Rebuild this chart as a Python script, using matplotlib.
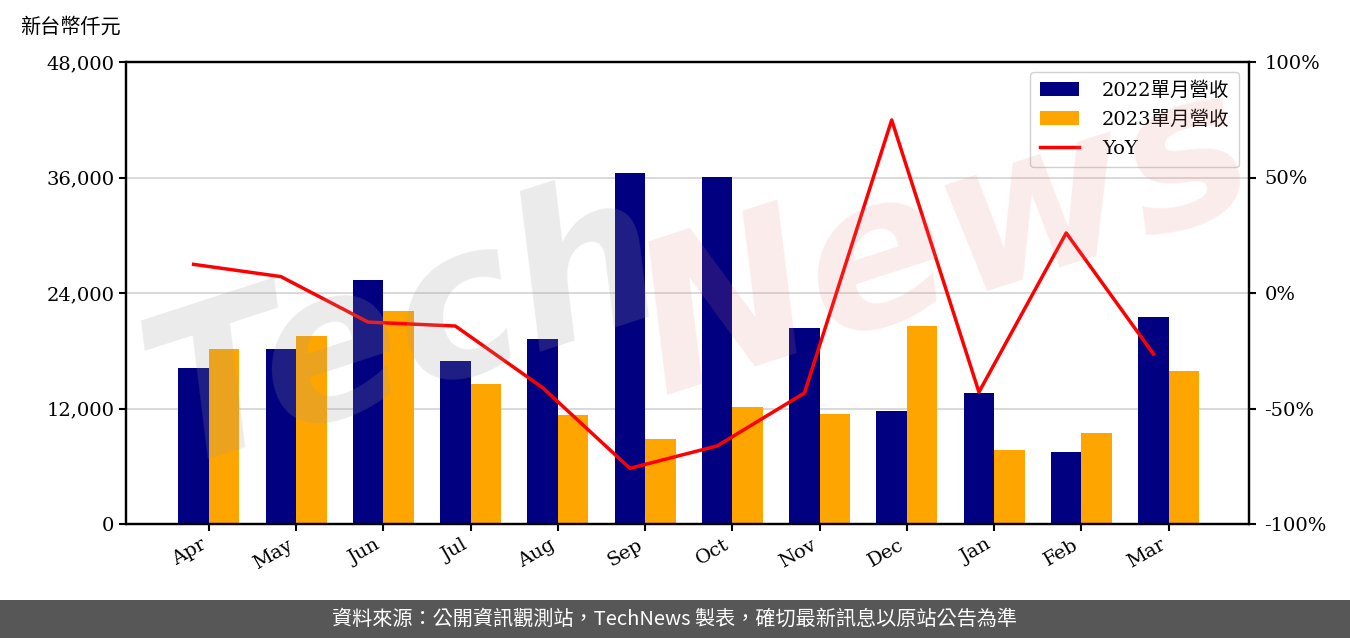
import matplotlib
matplotlib.use("Agg")
import matplotlib.pyplot as plt
import numpy as np
from matplotlib.ticker import FuncFormatter, FixedLocator
from matplotlib.patches import Rectangle

plt.rcParams['font.family'] = ['DejaVu Serif', 'Noto Sans CJK TC']

months = ['Apr', 'May', 'Jun', 'Jul', 'Aug', 'Sep', 'Oct', 'Nov', 'Dec', 'Jan', 'Feb', 'Mar']
rev_2022 = [16200, 18180, 25350, 16930, 19220, 36470, 36050, 20360, 11740, 13610, 7480, 21510]
rev_2023 = [18180, 19530, 22130, 14540, 11320, 8830, 12160, 11430, 20570, 7690, 9450, 15900]
yoy = [12.4, 7.1, -12.6, -14.3, -41.0, -75.9, -66.2, -43.3, 74.9, -42.9, 26.0, -26.4]

label_2022 = '2022單月營收'
label_2023 = '2023單月營收'
label_yoy = 'YoY'
unit_label = '新台幣仟元'
footer = '資料來源：公開資訊觀測站，TechNews 製表，確切最新訊息以原站公告為準'

fig = plt.figure(figsize=(13.5, 6.38), dpi=100)
ax = fig.add_axes([126/1350, 1-524/638, (1249-126)/1350, (524-62)/638])

x = np.arange(len(months))
w = 0.35
b1 = ax.bar(x - w/2, rev_2022, w, color='#000080', label=label_2022, zorder=2)
b2 = ax.bar(x + w/2, rev_2023, w, color='#FFA500', label=label_2023, zorder=2)
ax.set_ylim(0, 48000)
ax.set_xlim(-0.95, 11.92)
ax.yaxis.set_major_locator(FixedLocator([0, 12000, 24000, 36000, 48000]))
ax.yaxis.set_major_formatter(FuncFormatter(lambda v, p: f'{int(v):,}'))
ax.set_xticks(x)
ax.set_xticklabels(months, rotation=30, ha='right', rotation_mode='default')
ax.grid(axis='y', color='#d3d3d3', linewidth=1.2, zorder=0)
ax.set_axisbelow(True)
ax.tick_params(axis='both', labelsize=14, width=1.5, length=5)
for s in ax.spines.values():
    s.set_linewidth(1.6)

ax2 = ax.twinx()
l1, = ax2.plot(x - w/2, yoy, color='#FF0000', linewidth=2.5, label=label_yoy, zorder=3)
ax2.set_ylim(-100, 100)
ax2.yaxis.set_major_locator(FixedLocator([-100, -50, 0, 50, 100]))
ax2.yaxis.set_major_formatter(FuncFormatter(lambda v, p: f'{int(v)}%'))
ax2.tick_params(axis='y', labelsize=14, width=1.5, length=5, pad=6)
for s in ax2.spines.values():
    s.set_linewidth(1.6)

leg = ax2.legend([b1, b2, l1], [label_2022, label_2023, label_yoy], loc='upper right',
                 fontsize=14, fancybox=True, framealpha=0.9, borderpad=0.5,
                 handlelength=2.0, handletextpad=1.2, labelspacing=0.55)

# watermark
fig.text(0.30, 0.48, 'Tech', fontsize=150, color='#9a9a9a', alpha=0.2, rotation=18,
         ha='center', va='center', fontstyle='italic', fontweight='bold', family='DejaVu Sans', zorder=10)
fig.text(0.70, 0.62, 'News', fontsize=150, color='#e88080', alpha=0.15, rotation=18,
         ha='center', va='center', fontstyle='italic', fontweight='bold', family='DejaVu Sans', zorder=10)

fig.text(20/1350, 1-27/638, unit_label, fontsize=14.5, ha='left', va='center',
         family=['Noto Sans CJK TC'])

fig.patches.append(Rectangle((0, 0), 1, 38/638, transform=fig.transFigure,
                             facecolor='#575757', edgecolor='none', zorder=0))
fig.text(0.5, 19/638, footer, fontsize=14.5, color='white', ha='center', va='center',
         family=['Noto Sans CJK TC'])

fig.savefig('out.png', dpi=100)
